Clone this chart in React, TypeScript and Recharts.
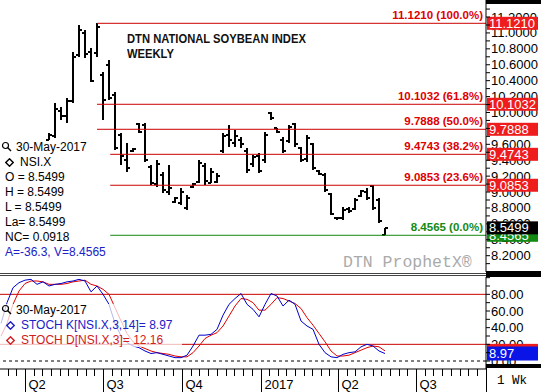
import React from 'react';
import { ComposedChart, Bar, Line, XAxis, YAxis, ReferenceLine } from 'recharts';

const FONT = '"Liberation Sans", Arial, sans-serif';

// weekly bars, first bar is the week of 29-Apr-2016
const FIRST_WEEK = '2016-04-29';
const STOCH_LEAD = 8; // stochastic values start 8 weeks before the first visible bar
const X_DOMAIN: [number, number] = [-8.17, 72.83];
const PRICE_DOMAIN: [number, number] = [7.995, 11.414];
const STOCH_DOMAIN: [number, number] = [-9.6, 100.8];

const opens = [
  9.66, 9.70, 10.02, 9.95, 10.14, 10.72, 11.00, 10.76, 10.75, 10.47,
  10.60, 10.22, 9.72, 9.40, 9.51, 9.85, 9.84, 9.32, 9.10, 9.22,
  9.00, 8.88, 8.86, 8.80, 9.06, 9.13, 9.33, 9.12, 9.13, 9.52,
  9.72, 9.62, 9.65, 9.52, 9.35, 9.45, 9.40, 9.99, 9.80, 9.66,
  9.64, 9.85, 9.55, 9.42, 9.60, 9.27, 9.22, 8.97, 8.67, 8.67,
  8.79, 8.79, 8.95, 9.00, 9.07, 8.90, 8.46,
];
const highs = [
  9.74, 10.12, 10.07, 10.18, 10.76, 11.10, 11.04, 10.81, 11.121, 10.51,
  10.66, 10.26, 9.74, 9.62, 9.55, 9.87, 9.87, 9.34, 9.40, 9.25,
  9.34, 8.94, 9.05, 8.96, 9.11, 9.40, 9.37, 9.30, 9.24, 9.74,
  9.84, 9.78, 9.69, 9.55, 9.47, 9.49, 9.75, 10.01, 9.81, 9.69,
  9.84, 9.87, 9.57, 9.72, 9.62, 9.28, 9.24, 8.99, 8.69, 8.81,
  8.81, 8.93, 9.03, 9.05, 9.09, 8.93, 8.5499,
];
const lows = [
  9.65, 9.68, 9.91, 9.87, 10.12, 10.70, 10.69, 10.38, 10.70, 9.91,
  10.16, 9.53, 9.34, 9.25, 9.50, 9.74, 9.38, 9.09, 9.06, 8.99,
  8.96, 8.86, 8.84, 8.77, 9.05, 9.11, 9.09, 9.11, 9.11, 9.49,
  9.57, 9.57, 9.55, 9.24, 9.32, 9.24, 9.37, 9.91, 9.74, 9.49,
  9.62, 9.57, 9.38, 9.38, 9.28, 9.21, 9.00, 8.71, 8.65, 8.65,
  8.74, 8.77, 8.94, 8.90, 8.77, 8.61, 8.4565,
];
const closes = [
  9.72, 10.05, 9.95, 10.15, 10.70, 11.04, 10.74, 10.40, 11.08, 10.16,
  10.18, 9.55, 9.45, 9.30, 9.54, 9.76, 9.40, 9.12, 9.35, 9.02,
  9.05, 8.92, 9.00, 8.93, 9.10, 9.36, 9.14, 9.25, 9.20, 9.70,
  9.65, 9.70, 9.60, 9.28, 9.44, 9.26, 9.72, 9.93, 9.76, 9.52,
  9.82, 9.60, 9.40, 9.68, 9.30, 9.23, 9.02, 8.73, 8.68, 8.78,
  8.76, 8.90, 9.01, 8.93, 8.80, 8.63, 8.5499,
];

const stochK = [
  45, 70, 88, 94, 97, 98, 92, 95,
  90, 92, 93, 95, 96, 98, 96, 83, 90, 80,
  68, 45, 30, 22, 18, 16, 12, 9, 10, 8,
  6, 4, 4, 7, 18, 31, 31, 32, 38, 55,
  68, 75, 81, 68, 62, 53, 68, 81, 78, 66,
  73, 68, 48, 42, 38, 20, 10, 5, 4, 8,
  10, 11, 17, 20, 18, 12, 8.97,
];
const stochD = [
  30, 45, 68, 84, 93, 96, 96, 95,
  92, 92, 92, 93, 95, 96, 97, 92, 90, 86,
  80, 64, 48, 33, 23, 18, 15, 12, 10, 9,
  8, 6, 5, 5, 10, 18, 27, 31, 34, 42,
  54, 66, 75, 74, 70, 61, 61, 68, 76, 75,
  72, 69, 63, 52, 43, 33, 23, 12, 6, 6,
  7, 10, 13, 16, 18, 17, 12.16,
];

const fibLevels = [11.121, 10.1032, 9.7888, 9.4743, 9.0853, 8.4565];
const fibPercents = ['100.0%', '61.8%', '50.0%', '38.2%', '23.6%', '0.0%'];
const fibStartWeek = [8, 8, 8, 10.2, 10.2, 10.2];

const quarterLabels = ['Q2', 'Q3', 'Q4', '2017', 'Q2', 'Q3'];
const quarterDates = ['2016-04-01', '2016-07-01', '2016-10-01', '2017-01-01', '2017-04-01', '2017-07-01'];

const lastDate = '30-May-2017';
const lastPrice = 8.5499;
const netChange = 0.0918;
const anchorPct = -36.3;

const RED = '#cc0000';
const BOX_RED = '#ee1c1c';
const GREEN = '#138a13';

const WEEK_MS = 7 * 24 * 3600 * 1000;
const weekIndex = (d: string) => (Date.parse(d) - Date.parse(FIRST_WEEK)) / WEEK_MS;

const rows: any[] = [];
for (let i = -STOCH_LEAD; i <= 72; i++) {
  const b = i >= 0 && i < opens.length;
  const s = i + STOCH_LEAD < stochK.length;
  rows.push({
    i,
    range: b ? [lows[i], highs[i]] : null,
    open: b ? opens[i] : null,
    high: b ? highs[i] : null,
    low: b ? lows[i] : null,
    close: b ? closes[i] : null,
    k: s ? stochK[i + STOCH_LEAD] : null,
    d: s ? stochD[i + STOCH_LEAD] : null,
  });
}

const priceTicks: number[] = [];
for (let t = 80; t <= 114; t++) priceTicks.push(t / 10);
const priceLabels = priceTicks.filter((v) => {
  const t = Math.round(v * 10);
  return t % 2 === 0 && t >= 82 && t <= 112;
});
const stochTicks = [0, 10, 20, 30, 40, 50, 60, 70, 80, 90, 100];
const stochLabels = [0, 20, 40, 60, 80];

const quarterIdx = quarterDates.map(weekIndex);
const bounds = [weekIndex('2016-01-01'), ...quarterIdx, weekIndex('2017-10-01')];
const timeTicks: number[] = [];
for (let q = 0; q < bounds.length - 1; q++) {
  for (let k = 0; k < 9; k++) {
    const t = bounds[q] + (k * (bounds[q + 1] - bounds[q])) / 9;
    if (t > X_DOMAIN[0] && t < X_DOMAIN[1]) timeTicks.push(t);
  }
}
const labelFor = (v: number) => {
  const q = quarterIdx.findIndex((p) => Math.abs(p - v) < 1e-6);
  return q >= 0 ? quarterLabels[q] : null;
};

const OhlcShape = (props: any) => {
  const { x, y, width, height, payload } = props;
  if (payload.high == null) return null;
  const top = Math.min(y, y + height);
  const h = Math.max(Math.abs(height), 1);
  const cx = Math.round(x + width / 2);
  const span = payload.high - payload.low || 1;
  const yOf = (v: number) => Math.round(top + ((payload.high - v) / span) * h);
  return (
    <g stroke="#000" strokeWidth={2} shapeRendering="crispEdges">
      <line x1={cx} x2={cx} y1={top} y2={top + h} />
      <line x1={cx - 3} x2={cx} y1={yOf(payload.open)} y2={yOf(payload.open)} />
      <line x1={cx} x2={cx + 3} y1={yOf(payload.close)} y2={yOf(payload.close)} />
    </g>
  );
};

// tick marks only; the numbers are drawn as labels so the value boxes can sit on top of them
const MarkTick = (props: any) => {
  const { x, y } = props;
  return <line x1={x} x2={x + 4} y1={y} y2={y} stroke="#000" />;
};

const TimeTick = (props: any) => {
  const { x, y, payload } = props;
  const label = labelFor(payload.value);
  const px = Math.round(x) + 0.5;
  return (
    <g>
      <line x1={px} x2={px} y1={y} y2={label ? y + 23 : y + 7} stroke="#000" />
      {label && (
        <text x={px + 3} y={y + 20} fontSize={13} fontFamily={FONT} fill="#000">
          {label}
        </text>
      )}
    </g>
  );
};

const AxisText = (props: any) => {
  const { viewBox, txt } = props;
  const right = viewBox.x + viewBox.width;
  return (
    <text x={right + 5} y={viewBox.y + 4.5} fontSize={13} fontFamily={FONT} fill="#000">
      {txt}
    </text>
  );
};

const FibLabel = (props: any) => {
  const { viewBox, lvl, pctText, txtColor, boxFill } = props;
  const right = viewBox.x + viewBox.width;
  const y = viewBox.y;
  return (
    <g>
      <text x={right - 3} y={y - 4} textAnchor="end" fontSize={11.5} fontWeight="bold" fontFamily={FONT} fill={txtColor}>
        {`${lvl.toFixed(4)} (${pctText})`}
      </text>
      <rect x={right + 1} y={y - 6.5} width={51} height={13} fill={boxFill} />
      <text x={right + 3} y={y + 4.5} fontSize={13} fontFamily={FONT} fill="#fff">
        {lvl.toFixed(4)}
      </text>
    </g>
  );
};

const BoxLabel = (props: any) => {
  const { viewBox, txt, boxFill, boxH } = props;
  const right = viewBox.x + viewBox.width;
  const y = viewBox.y;
  return (
    <g>
      <rect x={right + 1} y={y - boxH / 2} width={51} height={boxH} fill={boxFill} />
      <text x={right + 3} y={y + 4.5} fontSize={13} fontFamily={FONT} fill="#fff">
        {txt}
      </text>
    </g>
  );
};

const Magnifier = ({ top }: { top: number }) => (
  <svg style={{ position: 'absolute', left: 1, top }} width={11} height={11}>
    <circle cx={4.5} cy={4.5} r={3} stroke="#000" fill="none" strokeWidth={1.2} />
    <line x1={6.8} y1={6.8} x2={10} y2={10} stroke="#000" strokeWidth={1.4} />
  </svg>
);

const Diamond = ({ left, top, color }: { left: number; top: number; color: string }) => (
  <svg style={{ position: 'absolute', left, top }} width={9} height={9}>
    <polygon points="4.5,0.8 8.2,4.5 4.5,8.2 0.8,4.5" stroke={color} fill="none" strokeWidth={1.4} />
  </svg>
);

const Txt = ({ x, y, color = '#000', children }: any) => (
  <div
    style={{
      position: 'absolute', left: x, top: y - 8, fontSize: 12, lineHeight: '16px',
      color, whiteSpace: 'nowrap', fontFamily: FONT,
    }}
  >
    {children}
  </div>
);

export default function App() {
  const lastK = stochK[stochK.length - 1];
  const lastD = stochD[stochD.length - 1];
  const fibLow = fibLevels[fibLevels.length - 1];

  return (
    <div style={{ position: 'absolute', left: 0, top: 0, width: 541, height: 392, background: '#fff', overflow: 'hidden', fontFamily: FONT }}>
      <div style={{ position: 'absolute', left: 0, top: 0 }}>
        <ComposedChart width={541} height={272} data={rows} margin={{ top: 0, right: 0, bottom: 0, left: 0 }}>
          <XAxis type="number" dataKey="i" domain={X_DOMAIN} hide allowDataOverflow />
          <YAxis
            orientation="right" width={55} domain={PRICE_DOMAIN} ticks={priceTicks} interval={0}
            allowDataOverflow tick={MarkTick} tickLine={false} tickSize={0} tickMargin={0}
            axisLine={{ stroke: '#000' }}
          />
          <Bar dataKey="range" barSize={4} isAnimationActive={false} shape={(p: any) => <OhlcShape {...p} />} />
          {priceLabels.map((v) => (
            <ReferenceLine key={`pl-${v}`} y={v} strokeOpacity={0} label={<AxisText txt={v.toFixed(4)} />} />
          ))}
          {fibLevels.map((lvl, n) => {
            const green = n === fibLevels.length - 1;
            return (
              <ReferenceLine
                key={lvl}
                segment={[{ x: fibStartWeek[n], y: lvl }, { x: X_DOMAIN[1], y: lvl }]}
                stroke={green ? GREEN : RED}
                strokeWidth={1}
                label={<FibLabel lvl={lvl} pctText={fibPercents[n]} txtColor={green ? GREEN : '#e00000'} boxFill={green ? GREEN : BOX_RED} />}
              />
            );
          })}
          <ReferenceLine y={lastPrice} strokeOpacity={0} label={<BoxLabel txt={lastPrice.toFixed(4)} boxFill="#000" boxH={13} />} />
        </ComposedChart>
      </div>

      <div style={{ position: 'absolute', left: 0, top: 273 }}>
        <ComposedChart width={541} height={119} data={rows} margin={{ top: 4, right: 0, bottom: 0, left: 0 }}>
          <XAxis
            type="number" dataKey="i" domain={X_DOMAIN} allowDataOverflow ticks={timeTicks} interval={0}
            height={23} tick={TimeTick} tickLine={false} tickSize={0} tickMargin={0} axisLine={{ stroke: '#000' }}
          />
          <YAxis
            orientation="right" width={55} domain={STOCH_DOMAIN} ticks={stochTicks} interval={0}
            allowDataOverflow tick={MarkTick} tickLine={false} tickSize={0} tickMargin={0}
            axisLine={{ stroke: '#000' }}
          />
          {stochLabels.map((v) => (
            <ReferenceLine key={`sl-${v}`} y={v} strokeOpacity={0} label={<AxisText txt={v.toFixed(2)} />} />
          ))}
          <ReferenceLine y={80} stroke={RED} />
          <ReferenceLine y={20} stroke={RED} />
          <ReferenceLine y={0} stroke="#000" strokeDasharray="3 3" />
          <Line dataKey="d" stroke="#dd0000" strokeWidth={1} dot={false} isAnimationActive={false} connectNulls={false} />
          <Line dataKey="k" stroke="#0000cc" strokeWidth={1} dot={false} isAnimationActive={false} connectNulls={false} />
          <ReferenceLine y={lastD} strokeOpacity={0} label={<BoxLabel txt="" boxFill={BOX_RED} boxH={14} />} />
          <ReferenceLine y={lastK} strokeOpacity={0} label={<BoxLabel txt={lastK.toFixed(2)} boxFill="#0a14e6" boxH={14} />} />
        </ComposedChart>
      </div>

      {/* frame pieces */}
      <div style={{ position: 'absolute', left: 486, top: 0, width: 55, height: 4, background: '#000' }} />
      <div style={{ position: 'absolute', left: 0, top: 273, width: 541, height: 1, background: '#444' }} />
      <div style={{ position: 'absolute', left: 0, top: 275, width: 541, height: 1, background: '#444' }} />
      <div style={{ position: 'absolute', left: 486, top: 271, width: 55, height: 6, background: '#000' }} />
      <div style={{ position: 'absolute', left: 486, top: 364, width: 55, height: 4, background: '#000' }} />
      <div style={{ position: 'absolute', left: 486, top: 368, width: 1, height: 24, background: '#000' }} />

      {/* title */}
      <div style={{ position: 'absolute', left: 127, top: 32, fontSize: 13.5, lineHeight: '14.5px', fontWeight: 'bold', color: '#111', transform: 'scaleX(0.83)', transformOrigin: 'left top', whiteSpace: 'nowrap' }}>
        DTN NATIONAL SOYBEAN INDEX<br />WEEKLY
      </div>

      {/* price legend */}
      <Magnifier top={141} />
      <Txt x={16} y={147}>{lastDate}</Txt>
      <Diamond left={5} top={158} color="#000" />
      <Txt x={20} y={162}>NSI.X</Txt>
      <Txt x={5} y={177}>{`O = ${lastPrice.toFixed(4)}`}</Txt>
      <Txt x={5} y={192}>{`H = ${lastPrice.toFixed(4)}`}</Txt>
      <Txt x={5} y={207}>{`L = ${lastPrice.toFixed(4)}`}</Txt>
      <Txt x={5} y={222}>{`La= ${lastPrice.toFixed(4)}`}</Txt>
      <Txt x={5} y={237}>{`NC= ${netChange.toFixed(4)}`}</Txt>
      <Txt x={5} y={252} color="#2020c8">{`A=${anchorPct.toFixed(1)}, V=${fibLow.toFixed(4)}`}</Txt>

      <div style={{ position: 'absolute', left: 343, top: 254, fontSize: 16.5, lineHeight: '18px', color: '#aaa', fontFamily: '"Liberation Mono", monospace', whiteSpace: 'nowrap' }}>
        DTN ProphetX®
      </div>

      {/* stochastic legend */}
      <div style={{ position: 'absolute', left: 0, top: 304, width: 182, height: 43, background: 'rgba(255,255,255,0.72)' }} />
      <Magnifier top={304} />
      <Txt x={16} y={310}>{lastDate}</Txt>
      <Diamond left={6} top={321} color="#2020c8" />
      <Txt x={21} y={325} color="#2020c8">{`STOCH K[NSI.X,3,14]= ${lastK.toFixed(2)}`}</Txt>
      <Diamond left={6} top={336} color="#d02020" />
      <Txt x={21} y={340} color="#d02020">{`STOCH D[NSI.X,3]= ${lastD.toFixed(2)}`}</Txt>

      <div style={{ position: 'absolute', left: 497, top: 373, fontSize: 12.5, lineHeight: '16px', fontFamily: '"Liberation Mono", monospace', whiteSpace: 'nowrap' }}>
        1 Wk
      </div>
    </div>
  );
}
